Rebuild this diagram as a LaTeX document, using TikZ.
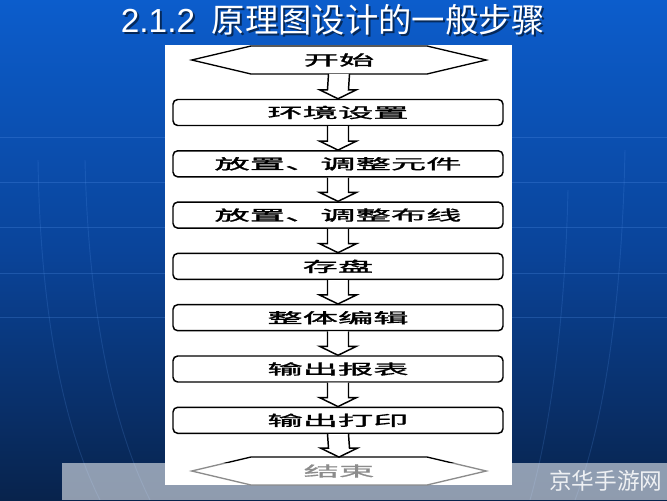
\documentclass[tikz,border=0pt]{standalone}
\usepackage{fontspec}
\usepackage{graphicx}
\newfontfamily\cjk{Noto Sans CJK SC}
\newfontfamily\cjkmid[FakeBold=1.2]{Noto Sans CJK SC}
\newfontfamily\arialf{Liberation Sans}
\usetikzlibrary{calc}
\definecolor{bgtop}{HTML}{0C5DCC}
\definecolor{bgmid}{HTML}{0A449A}
\definecolor{bgbot}{HTML}{08234C}
\definecolor{gridline}{HTML}{5C9AF0}
\newcommand\boxtxt[1]{\scalebox{2.45}[1]{\cjkmid\fontsize{10.8pt}{12pt}\selectfont #1}}
\newcommand\flowarrow[2]{%
  \draw[arrowline] ($(#1.south)+(-10.5,0)$) -- ($(#2.north)+(-10.5,-9)$)
    -- ($(#2.north)+(-18.5,-9)$) -- (#2.north) -- ($(#2.north)+(18.5,-9)$)
    -- ($(#2.north)+(10.5,-9)$) -- ($(#1.south)+(10.5,0)$);}
\newcommand\hexframe[1]{%
  \draw[hexline] ($(#1.west)+(-59,0)$) -- (#1.north west) -- (#1.north east)
    -- ($(#1.east)+(59,0)$) -- (#1.south east) -- (#1.south west) -- cycle;}
\tikzset{
  stepbox/.style={draw=black, line width=1.1pt, rounded corners=3.5pt, fill=white,
    minimum width=247.5pt, minimum height=19.5pt, inner sep=0pt},
  hexcore/.style={minimum width=132pt, minimum height=20.5pt, inner sep=0pt},
  hexline/.style={draw=black, line width=1pt, line join=miter},
  arrowline/.style={draw=black, line width=1.1pt, fill=white, line join=miter},
  deco/.style={draw=gridline, line width=0.7pt, opacity=0.25},
}
\begin{document}
\begin{tikzpicture}[x=0.75pt,y=-0.75pt]
\useasboundingbox (0,0) rectangle (667,500);
% background
\shade[top color=bgtop, bottom color=bgbot, middle color=bgmid] (0,0) rectangle (667,500);
\foreach \yy in {137,182,227,273,317} {\draw[deco] (0,\yy) -- (667,\yy);}
\draw[deco, opacity=0.18] (38,160) .. controls (40,300) and (60,420) .. (100,500);
\draw[deco, opacity=0.18] (85,160) .. controls (88,300) and (110,420) .. (150,500);
\draw[deco, opacity=0.18] (568,190) .. controls (565,320) and (550,430) .. (530,500);
\draw[deco, opacity=0.18] (625,150) .. controls (622,300) and (605,420) .. (575,500);
% panel
\fill[white] (165,45) rectangle (512,485);
% title
\node[text=black, opacity=0.55] (titleshadow) at (335,21.5)
  {\fontsize{25pt}{28pt}\selectfont{\arialf 2.1.2}\hspace{0.5em}{\cjk 原理图设计的一般步骤}};
\node[text=white] (title) at (333,19.5)
  {\fontsize{25pt}{28pt}\selectfont{\arialf 2.1.2}\hspace{0.5em}{\cjk 原理图设计的一般步骤}};
% flow
\node[hexcore] (start) at (339,60) {\boxtxt{开始}};
\hexframe{start}
\node[stepbox] (s1) at (338,112.5) {\boxtxt{环境设置}};
\node[stepbox] (s2) at (338,163.8) {\boxtxt{放置、调整元件}};
\node[stepbox] (s3) at (338,215.1) {\boxtxt{放置、调整布线}};
\node[stepbox] (s4) at (338,266.4) {\boxtxt{存盘}};
\node[stepbox] (s5) at (338,317.7) {\boxtxt{整体编辑}};
\node[stepbox] (s6) at (338,369.0) {\boxtxt{输出报表}};
\node[stepbox] (s7) at (338,420.3) {\boxtxt{输出打印}};
\node[hexcore] (stop) at (339,471) {\boxtxt{结束}};
\hexframe{stop}
\flowarrow{start}{s1}
\flowarrow{s1}{s2}
\flowarrow{s2}{s3}
\flowarrow{s3}{s4}
\flowarrow{s4}{s5}
\flowarrow{s5}{s6}
\flowarrow{s6}{s7}
\flowarrow{s7}{stop}
% watermark bar
\fill[white, opacity=0.55] (62,463) rectangle (667,500);
\node[anchor=west, text=white, opacity=0.85, inner sep=0pt] (wm) at (549,481)
  {\cjk\fontsize{17pt}{19pt}\selectfont 京华手游网};
\end{tikzpicture}
\end{document}
